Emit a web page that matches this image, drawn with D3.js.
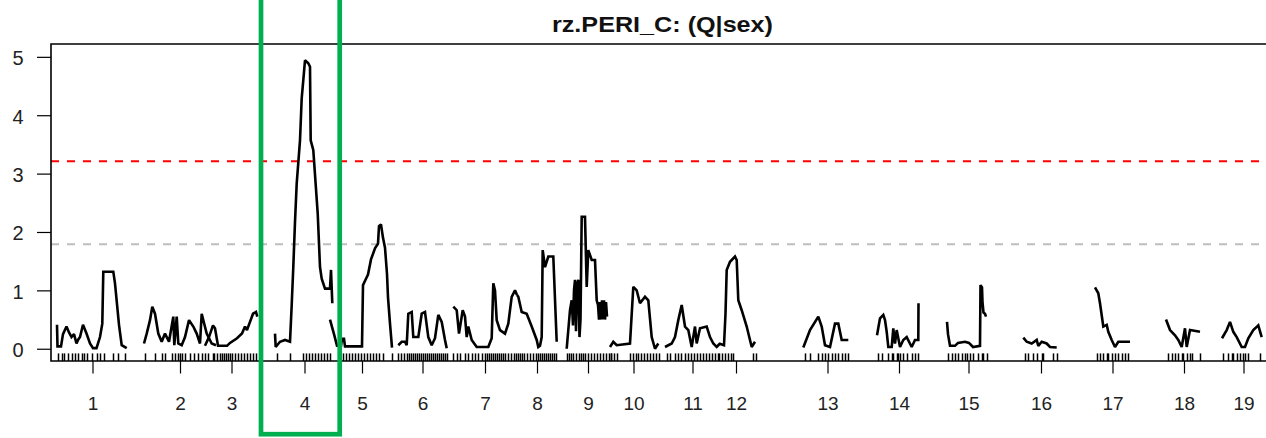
<!DOCTYPE html>
<html>
<head>
<meta charset="utf-8">
<script src="https://cdn.jsdelivr.net/npm/d3@7"></script>
<style>
  html, body { margin: 0; padding: 0; background: #fff; }
  svg { display: block; font-family: "Liberation Sans", Arial, sans-serif; }
</style>
</head>
<body>
<svg id="chart" width="1266" height="438"></svg>
<script>
// chromosome layout along the genome axis (start, length)
const chromosomes = ['1', '2', '3', '4', '5', '6', '7', '8', '9', '10', '11', '12', '13', '14', '15', '16', '17', '18', '19']
const chrStarts = [6, 93, 154, 224, 279, 347, 402, 466, 515, 559, 614, 668, 752, 826, 896, 972, 1044, 1115, 1171]
const chrLengths = [71, 72, 53, 59, 64, 49, 64, 40, 44, 47, 55, 34, 49, 44, 43, 36, 35, 36, 43]

const yTicks = [0, 1, 2, 3, 4, 5]
const thresholds = [3.21, 1.79]
const thresholdColors = ['#ff0000', '#bebebe']
const chartTitle = 'rz.PERI_C: (Q|sex)'
const highlightChr = '4'

// LOD scans per chromosome: [position within chromosome, LOD]
const chr1Scan = [[0, 0.41], [0.5, 0.04], [4, 0.04], [6, 0.25], [9.5, 0.38], [12, 0.28], [14.5, 0.2], [17, 0.25], [19.5, 0.09], [21, 0.15], [23, 0.2], [26, 0.41], [29.5, 0.26], [33, 0.09], [36, 0.01], [39.5, 0.01], [43, 0.2], [45.3, 0.43], [46.3, 1.32], [56.3, 1.32], [58, 1.12], [62, 0.41], [64.7, 0.06], [69.7, 0.01]]
const chr2Scan = [[0, 0.09], [2.7, 0.26], [6, 0.49], [8.3, 0.72], [11, 0.6], [14.3, 0.26], [17.7, 0.12], [21, 0.26], [25, 0.12], [29.3, 0.55], [30.3, 0.06], [32.7, 0.55], [34.3, 0.09], [37.7, 0.06], [41, 0.2], [45, 0.49], [49.3, 0.38], [52.7, 0.26], [56, 0.09], [57.7, 0.6], [62.7, 0.26], [67.7, 0.09], [72, 0.06]]
const chr3Scan = [[0, 0.05], [4, 0.2], [8, 0.4], [10, 0.35], [13, 0.05], [22, 0.05], [25, 0.1], [32, 0.18], [37, 0.26], [40, 0.38], [42, 0.32], [45, 0.46], [48, 0.6], [51, 0.63], [52.3, 0.55]]
const chr4Scan = [[0, 0.26], [0.7, 0.03], [5, 0.12], [10, 0.15], [15, 0.12], [16.7, 0.75], [18.3, 1.4], [20, 2.17], [21.7, 2.83], [25, 3.57], [26.7, 4.29], [28.3, 4.6], [30, 4.94], [33.3, 4.89], [35, 4.83], [35.7, 3.57], [38.3, 3.4], [42.7, 2.32], [45, 1.4], [46.7, 1.2], [50, 1.03], [55, 1.03], [56, 1.35], [57.3, 0.78]]
const chr5Scan = [[0, 0.5], [4, 0.25], [7, 0.05], [11, 0.05], [12, 0.17], [14, 0.17], [15, 0.04], [32, 0.04], [33, 1.09], [36, 1.2], [38, 1.27], [41, 1.53], [45, 1.72], [48, 1.8], [49, 2.1], [51, 2.13], [53, 1.9], [55, 1.73], [57, 1.28], [58, 0.88], [60, 0.43], [62, 0.02]]
const chr6Scan = [[0.3, 0.06], [3.7, 0.12], [7, 0.12], [8.7, 0.06], [10.3, 0.6], [13.7, 0.63], [15.3, 0.2], [20.3, 0.2], [23.7, 0.6], [27, 0.63], [30.3, 0.2], [33.7, 0.06], [37, 0.18], [40.3, 0.58], [43.7, 0.46], [47, 0.15], [48.7, 0.01]]
const chr7Scan = [[0.3, 0.72], [3.7, 0.66], [6, 0.26], [9.7, 0.66], [12, 0.55], [13.7, 0.2], [15.3, 0.38], [18.7, 0.15], [23.7, 0.03], [35.3, 0.03], [38.7, 0.18], [40.3, 1.12], [42, 1.0], [43.7, 0.49], [47, 0.32], [52, 0.26], [55.3, 0.43], [57, 0.66], [58.7, 0.89], [62, 1.0], [64, 0.92]]
const chr8Scan = [[0, 0.92], [1.3, 0.89], [4.7, 0.63], [9.7, 0.6], [14.7, 0.38], [19.7, 0.15], [21.3, 0.03], [23, 0.05], [24.7, 0.2], [25.7, 1.69], [28, 1.4], [31.3, 1.58], [36.3, 1.58], [39.7, 0.12]]
const chr9Scan = [[0.7, 0], [4, 0.66], [5.7, 0.83], [7, 0.4], [8, 1.0], [9, 1.18], [10, 0.3], [11, 1.1], [12.3, 1.18], [13.5, 0.2], [14.5, 0.5], [15.7, 2.26], [19, 2.26], [20.7, 1.06], [22.3, 1.69], [25.7, 1.52], [29, 1.52], [30.7, 0.83], [32, 0.75], [33, 0.5], [34, 0.8], [35, 0.5], [36, 0.83], [37, 0.5], [38, 0.83], [39, 0.5], [40, 0.8], [41, 0.55]]
const chr10Scan = [[0, 0.03], [3.3, 0.12], [6.7, 0.06], [20, 0.09], [23.3, 1.06], [26.7, 1.0], [30, 0.78], [35, 0.89], [38.3, 0.83], [41.7, 0.2], [45, 0], [48.3, 0.09]]
const chr11Scan = [[0, 0.03], [6.7, 0.09], [10, 0.2], [13.3, 0.49], [16.7, 0.75], [20, 0.38], [23.3, 0.32], [26.7, 0.03], [30, 0.38], [31.7, 0.09], [35, 0.35], [41.7, 0.38], [45, 0.2], [48.3, 0.09], [51.7, 0.03], [55, 0.09]]
const chr12Scan = [[0, 0.09], [5, 0.06], [6.5, 0.6], [7.7, 1.35], [11, 1.49], [16, 1.58], [17.7, 1.52], [19.3, 0.83], [22.7, 0.66], [27.7, 0.38], [32.7, 0.03], [36, 0.12]]
const chr13Scan = [[0.3, 0.02], [7, 0.32], [15.3, 0.55], [18.7, 0.38], [22, 0.06], [27, 0.03], [32, 0.43], [35.3, 0.43], [38.7, 0.15], [45.3, 0.15]]
const chr14Scan = [[0, 0.23], [3, 0.52], [6.3, 0.58], [8, 0.49], [9.7, 0.29], [11.3, 0.03], [14.7, 0.03], [16.3, 0.35], [18, 0.09], [19.7, 0.32], [23, 0.03], [26.3, 0.15], [29.7, 0.2], [34.7, 0.03], [38, 0.15], [41.3, 0.15], [41.5, 0.78]]
const chr15Scan = [[0, 0.46], [1, 0.25], [3, 0.05], [8, 0.05], [11, 0.1], [18, 0.12], [22, 0.1], [26, 0.03], [33, 0.05], [33.5, 1.09], [35, 1.05], [35.5, 0.8], [36.5, 0.62], [38, 0.6], [39, 0.55]]
const chr16Scan = [[0.3, 0.19], [3.7, 0.12], [8.7, 0.09], [13.7, 0.15], [15.3, 0.05], [18.7, 0.12], [23.7, 0.09], [27, 0.03], [33.7, 0.02]]
const chr17Scan = [[0, 1.05], [3.3, 0.95], [5, 0.78], [8.3, 0.38], [11.7, 0.41], [13.3, 0.29], [16.7, 0.15], [20, 0.03], [23.3, 0.12], [35, 0.12]]
const chr18Scan = [[0, 0.5], [4, 0.32], [9, 0.23], [12.3, 0.15], [15.7, 0.03], [19, 0.35], [20.7, 0.03], [24, 0.32], [34, 0.29]]
const chr19Scan = [[0, 0.18], [4.7, 0.32], [8, 0.46], [11.3, 0.29], [14.7, 0.2], [19.7, 0.03], [23, 0.03], [26.3, 0.18], [31.3, 0.32], [36.3, 0.4], [39.7, 0.2]]

// marker positions per chromosome (rug)
const chr1Markers = [1, 5, 7, 11, 15, 18, 21, 25, 27, 30, 35, 40, 43, 47, 56, 61, 68]
const chr2Markers = [1, 11, 18, 21, 28, 31, 34, 36, 38, 41, 46, 50, 54, 58, 61, 64, 69]
const chr3Markers = [9, 12, 15, 17, 19, 21, 23, 25, 27, 30, 33, 36, 39, 42, 45, 48, 51]
const chr4Markers = [2, 15, 28, 31, 34, 37, 40, 43, 46, 49, 52, 55]
const chr5Markers = [13, 16, 19, 22, 25, 28, 31, 34, 37, 40, 43, 46, 49, 53, 62]
const chr6Markers = [0, 3, 6, 9, 11, 13, 15, 17, 19, 21, 23, 25, 27, 29, 31, 33, 35, 37, 39, 41, 43, 45, 47, 49]
const chr7Markers = [0, 4, 7, 12, 15, 19, 22, 25, 29, 32, 34, 36, 38, 40, 42, 44, 46, 48, 50, 52, 55, 58, 61, 63]
const chr8Markers = [1, 3, 5, 7, 10, 13, 16, 19, 21, 23, 25, 27, 29, 31, 33, 35, 37, 39]
const chr9Markers = [1, 3, 5, 7, 10, 13, 15, 17, 19, 22, 25, 28, 31, 34, 37, 40, 43, 45]
const chr10Markers = [1, 4, 7, 20, 23, 26, 28, 31, 34, 37, 40, 43, 46, 49]
const chr11Markers = [2, 5, 10, 13, 16, 20, 23, 26, 29, 32, 35, 38, 41, 44, 47, 50, 53]
const chr12Markers = [0, 3, 6, 9, 12, 14, 34, 37]
const chr13Markers = [2, 7, 15, 19, 22, 25, 29, 32, 35, 39, 42, 45]
const chr14Markers = [1, 5, 11, 15, 16, 20, 21, 23, 26, 30, 35, 38, 41]
const chr15Markers = [1, 5, 8, 11, 15, 18, 20, 23, 26, 31, 35, 36, 40]
const chr16Markers = [2, 5, 10, 14, 19, 20, 30, 34]
const chr17Markers = [2, 5, 8, 12, 13, 17, 20, 23, 27, 30, 33]
const chr18Markers = [2, 6, 9, 12, 16, 17, 21, 24, 26, 34]
const chr19Markers = [1, 6, 10, 11, 15, 18, 21, 23, 26, 38]

const lodScans = [chr1Scan, chr2Scan, chr3Scan, chr4Scan, chr5Scan, chr6Scan, chr7Scan, chr8Scan, chr9Scan, chr10Scan,
  chr11Scan, chr12Scan, chr13Scan, chr14Scan, chr15Scan, chr16Scan, chr17Scan, chr18Scan, chr19Scan]
const markerSets = [chr1Markers, chr2Markers, chr3Markers, chr4Markers, chr5Markers, chr6Markers, chr7Markers, chr8Markers,
  chr9Markers, chr10Markers, chr11Markers, chr12Markers, chr13Markers, chr14Markers, chr15Markers, chr16Markers,
  chr17Markers, chr18Markers, chr19Markers]

const plot = { left: 51, top: 44, right: 1266, bottom: 361 }

const svg = d3.select('#chart')

const x = d3.scaleLinear().domain([0, 1215]).range([plot.left, plot.right])
const y = d3.scaleLinear().domain([-0.21, 5.22]).range([plot.bottom, plot.top])

const chrData = chromosomes.map((name, i) => ({
  name,
  start: chrStarts[i],
  length: chrLengths[i],
  scan: lodScans[i],
  markers: markerSets[i]
}))

svg.append('defs')
  .append('clipPath')
  .attr('id', 'plot-clip')
  .append('rect')
  .attr('x', plot.left)
  .attr('y', plot.top)
  .attr('width', plot.right - plot.left)
  .attr('height', plot.bottom - plot.top)

// title
svg.append('text')
  .attr('x', 662.5)
  .attr('y', 32)
  .attr('text-anchor', 'middle')
  .attr('font-size', 22)
  .attr('font-weight', 'bold')
  .attr('textLength', 221)
  .attr('lengthAdjust', 'spacingAndGlyphs')
  .attr('fill', '#111')
  .text(chartTitle)

const plotArea = svg.append('g').attr('clip-path', 'url(#plot-clip)')

// threshold lines
plotArea.selectAll('line.threshold')
  .data(thresholds)
  .enter()
  .append('line')
  .attr('class', 'threshold')
  .attr('x1', plot.left)
  .attr('x2', plot.right)
  .attr('y1', d => y(d))
  .attr('y2', d => y(d))
  .attr('stroke', (d, i) => thresholdColors[i])
  .attr('stroke-width', 2)
  .attr('stroke-dasharray', '8,8')

// marker rug
const rugTop = y(-0.08)
chrData.forEach(chr => {
  plotArea.append('g')
    .selectAll('line')
    .data(chr.markers)
    .enter()
    .append('line')
    .attr('x1', d => Math.round(x(chr.start + d)) + 0.5)
    .attr('x2', d => Math.round(x(chr.start + d)) + 0.5)
    .attr('y1', rugTop)
    .attr('y2', plot.bottom)
    .attr('stroke', '#000')
    .attr('stroke-width', 1.5)
})

// LOD curves
const lodLine = d3.line()
chrData.forEach(chr => {
  lodLine.x(d => x(chr.start + d[0])).y(d => y(d[1]))
  plotArea.append('path')
    .datum(chr.scan)
    .attr('d', lodLine)
    .attr('fill', 'none')
    .attr('stroke', '#000')
    .attr('stroke-width', 2.6)
    .attr('stroke-linejoin', 'miter')
    .attr('stroke-miterlimit', 2)
})

// y axis
const yAxis = svg.append('g')
  .attr('transform', `translate(${plot.left},0)`)
  .call(d3.axisLeft(y).tickValues(yTicks).tickSize(14).tickPadding(13.5).tickFormat(d3.format('d')))
yAxis.select('.domain').remove()
yAxis.selectAll('line').attr('stroke', '#000').attr('stroke-width', 1.2)
yAxis.selectAll('text')
  .attr('font-size', 20)
  .attr('font-family', '"Liberation Sans", Arial, sans-serif')
  .attr('fill', '#222')
  .attr('dy', '0.4em')

// x axis (chromosome midpoints)
const xAxis = svg.append('g')
  .attr('transform', `translate(0,${plot.bottom})`)
  .call(d3.axisBottom(x)
    .tickValues(chrData.map(c => c.start + c.length / 2))
    .tickFormat((d, i) => chromosomes[i])
    .tickSize(12.5)
    .tickPadding(23))
xAxis.select('.domain').remove()
xAxis.selectAll('line').attr('stroke', '#000').attr('stroke-width', 1.2)
xAxis.selectAll('text')
  .attr('font-size', 19)
  .attr('font-family', '"Liberation Sans", Arial, sans-serif')
  .attr('fill', '#222')

// plot frame (right side runs off the picture)
svg.append('path')
  .attr('d', `M${plot.right + 5},${plot.top}H${plot.left}V${plot.bottom}H${plot.right + 5}`)
  .attr('fill', 'none')
  .attr('stroke', '#000')
  .attr('stroke-width', 1.6)

// highlight box around the chromosome of interest
const hl = chrData.find(c => c.name === highlightChr)
svg.append('rect')
  .attr('x', x(hl.start) - 14)
  .attr('y', -10)
  .attr('width', x(hl.start + hl.length) - x(hl.start) + 19.7)
  .attr('height', 444.2)
  .attr('fill', 'none')
  .attr('stroke', '#00b050')
  .attr('stroke-width', 4.7)
</script>
</body>
</html>
